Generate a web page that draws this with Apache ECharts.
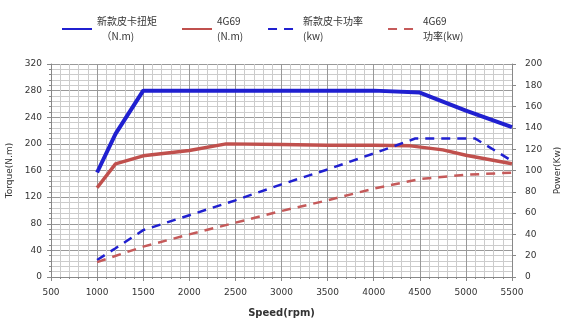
<!DOCTYPE html>
<html><head><meta charset="utf-8">
<script src="https://cdn.jsdelivr.net/npm/echarts@6/dist/echarts.min.js"></script>
<style>html,body{margin:0;padding:0;background:#fff}#c{width:565px;height:321px}</style>
</head><body><div id="c"></div>
<script>
const seriesNames = ['新款皮卡扭矩\n  （N.m)', '4G69\n(N.m)', '新款皮卡功率\n(kw)', '4G69\n功率(kw)'];
const xTicks = [500, 5500, 500];
const newTorqueRpm = [1000, 1200, 1500, 2000, 2500, 3000, 3500, 4000, 4500, 5000, 5500];
const newTorque    = [157, 215, 280, 280, 280, 280, 280, 280, 277, 250, 225];
const oldTorqueRpm = [1000, 1200, 1500, 2000, 2400, 3000, 3500, 4000, 4400, 4750, 5000, 5500];
const oldTorque    = [134, 170, 182, 190, 200, 199, 198, 198, 197, 191, 183, 170];
const newPowerRpm  = [1000, 1200, 1500, 2000, 2500, 3000, 3500, 4000, 4450, 5100, 5500];
const newPower     = [16, 27, 44, 58, 72, 87, 101, 116, 130, 130, 109];
const oldPowerRpm  = [1000, 1500, 2000, 2500, 3000, 3500, 4000, 4500, 5000, 5500];
const oldPower     = [14, 28.5, 40, 51, 62, 72, 83, 92, 96, 98];

const zip = (a, b) => a.map((v, i) => [v, b[i]]);
const chart = echarts.init(document.getElementById('c'));
const font = 'DejaVu Sans, Verdana, sans-serif';
const lbl = { fontSize: 9, color: '#333', fontFamily: font };
chart.setOption({
  animation: false,
  backgroundColor: '#fff',
  textStyle: { fontFamily: font },
  legend: {
    top: 9, left: 56, itemGap: 24, itemWidth: 30, itemHeight: 10,
    itemStyle: { opacity: 0 },
    textStyle: { fontSize: 10, color: '#333', fontFamily: 'Noto Sans CJK SC, sans-serif', lineHeight: 15 },
    data: seriesNames
  },
  grid: { left: 51, right: 53, top: 64, bottom: 44, containLabel: false, outerBoundsMode: 'none' },
  xAxis: {
    type: 'value', min: xTicks[0], max: xTicks[1], interval: xTicks[2],
    name: 'Speed(rpm)', nameLocation: 'middle', nameGap: 31,
    nameTextStyle: { fontWeight: 'bold', fontSize: 10, color: '#333', fontFamily: font },
    axisLine: { show: true, onZero: false, lineStyle: { color: '#888' } },
    axisTick: { show: true, length: 4, lineStyle: { color: '#888' } },
    minorTick: { show: true, splitNumber: 5, length: 2, lineStyle: { color: '#888' } },
    axisLabel: Object.assign({ margin: 11, formatter: v => String(v) }, lbl),
    splitLine: { show: true, lineStyle: { color: '#999', width: 1 } },
    minorSplitLine: { show: true, lineStyle: { color: '#cccccc', width: 1 } }
  },
  yAxis: [{
    type: 'value', min: 0, max: 320, interval: 40,
    name: 'Torque(N.m)', nameLocation: 'middle', nameGap: 37, nameRotate: 90,
    nameTextStyle: { fontSize: 9, color: '#333', fontFamily: font },
    axisLine: { show: true, lineStyle: { color: '#888' } },
    axisTick: { show: true, length: 4, lineStyle: { color: '#888' } },
    minorTick: { show: true, splitNumber: 5, length: 2, lineStyle: { color: '#888' } },
    axisLabel: Object.assign({ margin: 9 }, lbl),
    splitLine: { show: true, lineStyle: { color: '#999', width: 1 } },
    minorSplitLine: { show: true, lineStyle: { color: '#cccccc', width: 1 } }
  }, {
    type: 'value', min: 0, max: 200, interval: 20, position: 'right',
    name: 'Power(Kw)', nameLocation: 'middle', nameGap: 38, nameRotate: 90,
    nameTextStyle: { fontSize: 9, color: '#333', fontFamily: font },
    axisLine: { show: true, lineStyle: { color: '#888' } },
    axisTick: { show: true, length: 4, lineStyle: { color: '#888' } },
    axisLabel: Object.assign({ margin: 13 }, lbl),
    splitLine: { show: false }
  }],
  series: [
    { name: seriesNames[0], type: 'line', yAxisIndex: 0, data: zip(newTorqueRpm, newTorque), symbol: 'none',
      lineStyle: { color: '#2020d0', width: 4 }, itemStyle: { color: '#2020d0' } },
    { name: seriesNames[1], type: 'line', yAxisIndex: 0, data: zip(oldTorqueRpm, oldTorque), symbol: 'none',
      lineStyle: { color: '#c0504d', width: 3.5 }, itemStyle: { color: '#c0504d' } },
    { name: seriesNames[2], type: 'line', yAxisIndex: 1, data: zip(newPowerRpm, newPower), symbol: 'none',
      lineStyle: { color: '#2020d0', width: 2.5, type: [9, 7] }, itemStyle: { color: '#2020d0' } },
    { name: seriesNames[3], type: 'line', yAxisIndex: 1, data: zip(oldPowerRpm, oldPower), symbol: 'none',
      lineStyle: { color: '#c55a5a', width: 2.5, type: [9, 7] }, itemStyle: { color: '#c55a5a' } }
  ]
});
</script></body></html>
